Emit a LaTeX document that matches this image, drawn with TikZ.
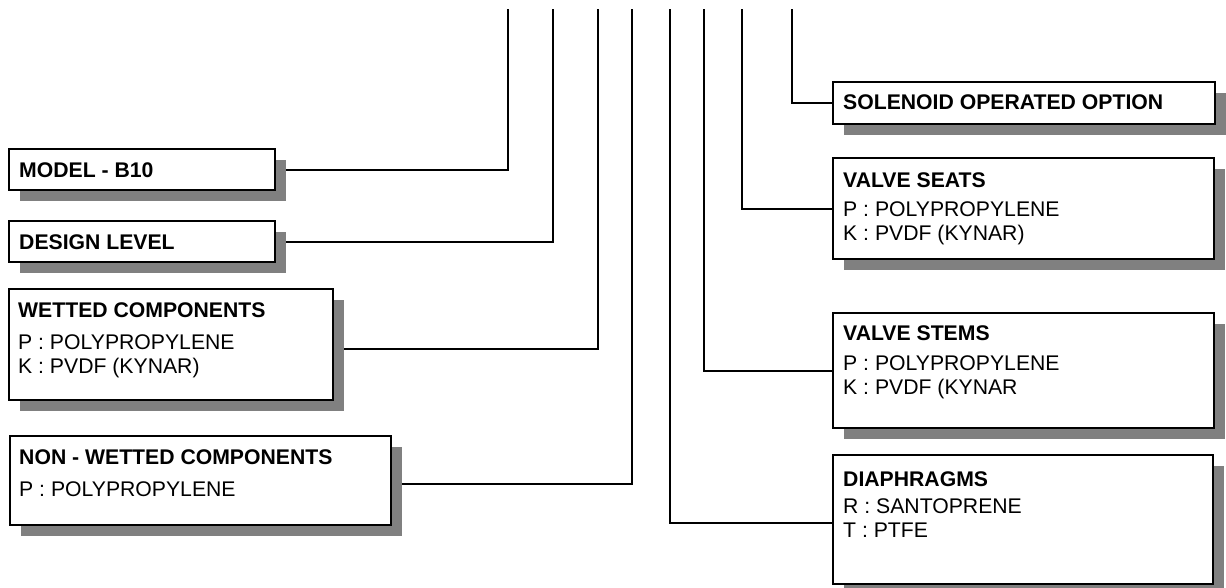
\documentclass[tikz,border=0pt]{standalone}
\usepackage{fontspec}
\setmainfont{Liberation Sans}
\usepackage{tikz}
\usetikzlibrary{positioning, shadows, backgrounds}
\definecolor{shadowgray}{RGB}{128,128,128}

\begin{document}
\begin{tikzpicture}[x=1pt, y=-1pt,
    box/.style={draw, line width=2.2pt, fill=white, anchor=north west, inner sep=0pt,
        drop shadow={shadow xshift=11pt, shadow yshift=-11pt, fill=shadowgray, opacity=1}},
    txt/.style={inner sep=0pt, align=left, font=\fontsize{21.2}{24}\selectfont},
    link/.style={line width=2pt}]
        \useasboundingbox (0,0) rectangle (1226,587);
        % Boxes on the left
        \node[box, minimum width=266pt, minimum height=41pt] (model) at (8,148) {};
        \node[box, minimum width=266pt, minimum height=41pt] (design) at (8,220) {};
        \node[box, minimum width=324pt, minimum height=111pt] (wet) at (8,288) {};
        \node[box, minimum width=381pt, minimum height=89pt] (nonwet) at (9,435) {};
        % Boxes on the right
        \node[box, minimum width=382pt, minimum height=42pt] (sol) at (832,81) {};
        \node[box, minimum width=381pt, minimum height=101pt] (seats) at (832,157) {};
        \node[box, minimum width=381pt, minimum height=115pt] (stems) at (832,312) {};
        \node[box, minimum width=380pt, minimum height=129pt] (diaph) at (832,454) {};

        \node[txt, below right=14pt and 11pt of model.north west] (modeltxt) {\textbf{MODEL - B10}};
        \node[txt, below right=14pt and 11pt of design.north west] (designtxt) {\textbf{DESIGN LEVEL}};
        \node[txt, below right=14pt and 10pt of wet.north west] (wettxt) {\textbf{WETTED COMPONENTS}\\[8pt] P : POLYPROPYLENE\\ K : PVDF (KYNAR)};
        \node[txt, below right=14pt and 10pt of nonwet.north west] (nonwettxt) {\textbf{NON - WETTED COMPONENTS}\\[8pt] P : POLYPROPYLENE};
        \node[txt, below right=13pt and 11pt of sol.north west] (soltxt) {\textbf{SOLENOID OPERATED OPTION}};
        \node[txt, below right=15pt and 11pt of seats.north west] (seatstxt) {\textbf{VALVE SEATS}\\[5pt] P : POLYPROPYLENE\\ K : PVDF (KYNAR)};
        \node[txt, below right=13pt and 11pt of stems.north west] (stemstxt) {\textbf{VALVE STEMS}\\[6pt] P : POLYPROPYLENE\\ K : PVDF (KYNAR};
        \node[txt, below right=17pt and 11pt of diaph.north west] (diaphtxt) {\textbf{DIAPHRAGMS}\\[3pt] R : SANTOPRENE\\ T : PTFE};

        % Lead lines from the top
        \foreach \n/\x in {tmodel/508, tdesign/553, twet/598, tnonwet/632, tdiaph/670, tstems/704, tseats/742, tsol/792}
            \coordinate (\n) at (\x,9);
        \begin{scope}[on background layer]
            \draw[link] (model.east) -| (tmodel);
            \draw[link] (design.east) -| (tdesign);
            \draw[link] ([yshift=-4pt]wet.east) -| (twet);
            \draw[link] ([yshift=-3pt]nonwet.east) -| (tnonwet);
            \draw[link] (tdiaph) |- ([yshift=-3pt]diaph.west);
            \draw[link] (tstems) |- (stems.west);
            \draw[link] (tseats) |- (seats.west);
            \draw[link] (tsol) |- (sol.west);
        \end{scope}
\end{tikzpicture}
\end{document}
